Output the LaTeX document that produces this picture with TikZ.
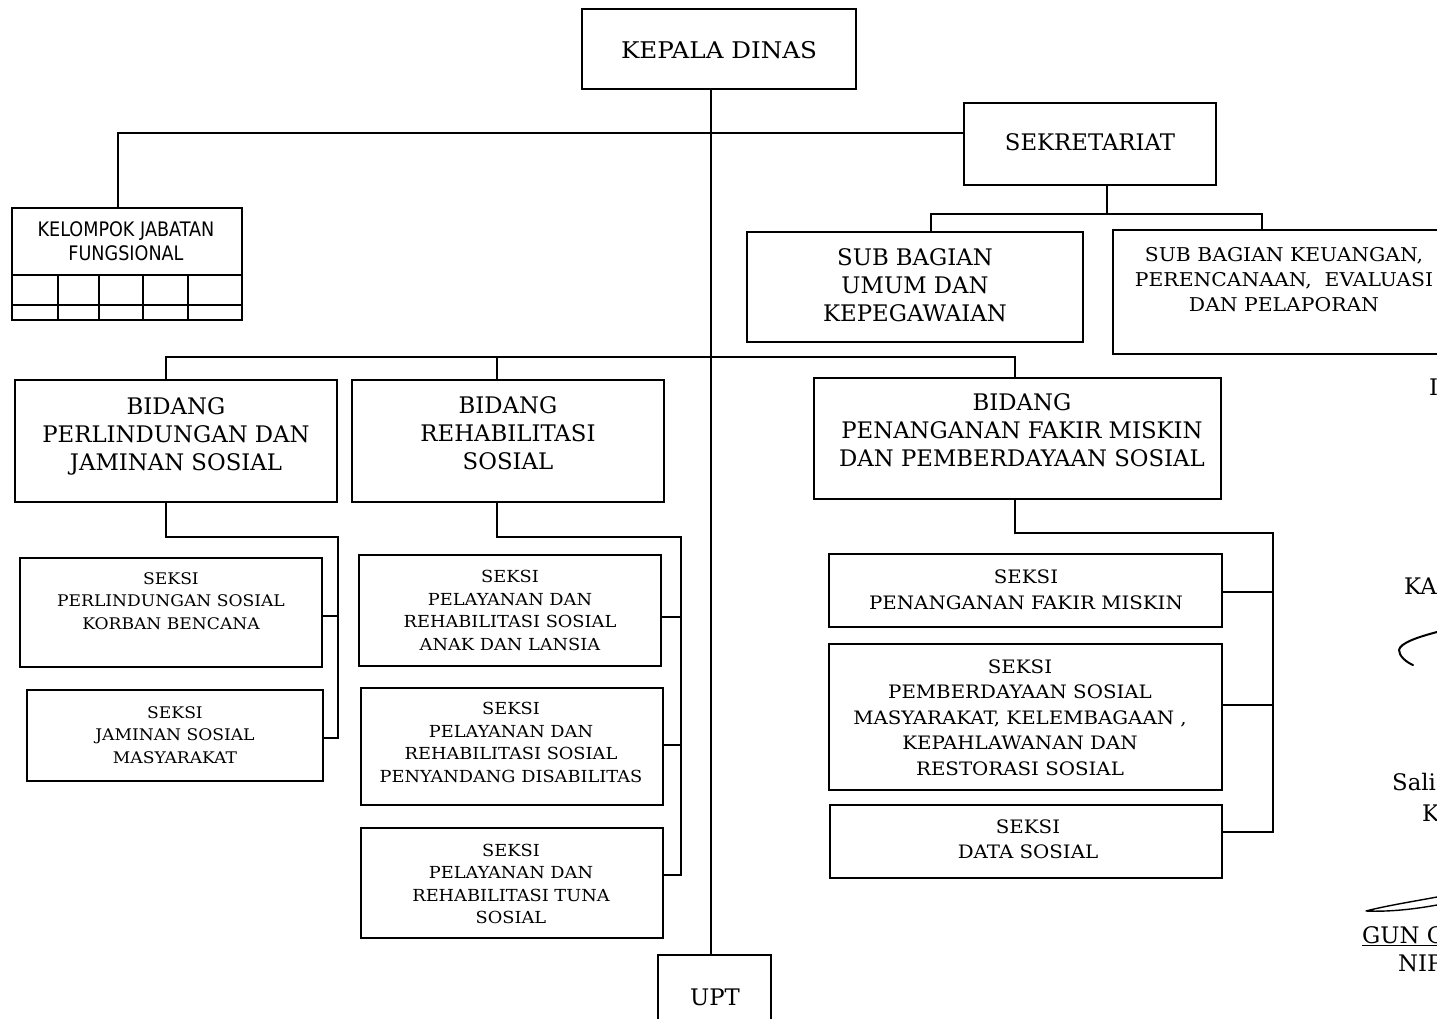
\documentclass[tikz,border=0pt]{standalone}
\usepackage{fontspec}
\setmainfont{DejaVu Serif}
\newfontfamily\wideserif[FakeStretch=1.07]{DejaVu Serif}
\newfontfamily\kjffont[FakeStretch=0.88]{DejaVu Sans}
\begin{document}
\begin{tikzpicture}[x=1pt,y=-1pt,
  box/.style={draw, line width=1.9pt, inner sep=0pt},
  conn/.style={line width=1.9pt},
  thead/.style={align=center, inner sep=0pt, font=\wideserif\fontsize{23}{28}\selectfont},
  tbig/.style={align=center, inner sep=0pt, font=\fontsize{22.8}{28}\selectfont},
  tsub/.style={align=center, inner sep=0pt, font=\wideserif\fontsize{19}{25}\selectfont},
  tsek/.style={align=center, inner sep=0pt, font=\wideserif\fontsize{16}{22.5}\selectfont},
  tsekm/.style={align=center, inner sep=0pt, font=\wideserif\fontsize{16.6}{22.5}\selectfont},
  tsekr/.style={align=center, inner sep=0pt, font=\wideserif\fontsize{18.5}{25.5}\selectfont},
  tkjf/.style={align=center, inner sep=0pt, font=\kjffont\fontsize{20}{24}\selectfont},
  tsign/.style={inner sep=0pt, anchor=west, font=\fontsize{22.8}{28}\selectfont},
  sig/.style={line width=2pt, line cap=round, line join=round}
]
\useasboundingbox (0,0) rectangle (1437,1018);
\clip (0,0) rectangle (1437,1018);

% ---- top level
\node[box, minimum width=274pt, minimum height=80pt] (kd) at (719,49) {};
\node[thead] at (719,50) {KEPALA DINAS};

\node[box, minimum width=252pt, minimum height=82pt] (sek) at (1090,144) {};
\node[tbig] at (1090,142) {SEKRETARIAT};

% ---- secretariat sub-sections
\node[box, minimum width=336pt, minimum height=110pt] (sbu) at (915,287) {};
\node[tbig] at (915,285) {SUB BAGIAN\\UMUM DAN\\KEPEGAWAIAN};

\node[box, minimum width=347pt, minimum height=124pt] (sbk) at (1286.5,292) {};
\node[tsub] at (1284,280) {SUB BAGIAN KEUANGAN,\\PERENCANAAN,\ \ EVALUASI\\DAN PELAPORAN};

% ---- functional group with its table
\node[box, minimum width=230pt, minimum height=112pt] (kjf) at (127,264) {};
\node[tkjf] at (126,241) {KELOMPOK JABATAN\\FUNGSIONAL};
\draw[conn] (kjf.west |- 0,275) -- (243,275);
\draw[conn] (kjf.west |- 0,305) -- (243,305);
\foreach \cx in {58,99,143,188} \draw[conn] (\cx,275) -- (\cx,319);

% ---- bidang
\node[box, minimum width=322pt, minimum height=122pt] (bpjs) at (176,441) {};
\node[tbig] at (176,436) {BIDANG\\PERLINDUNGAN DAN\\JAMINAN SOSIAL};

\node[box, minimum width=312pt, minimum height=122pt] (brs) at (508,441) {};
\node[tbig] at (508,433) {BIDANG\\REHABILITASI\\SOSIAL};

\node[box, minimum width=407pt, minimum height=121pt] (bpfm) at (1017.5,438.5) {};
\node[tbig] at (1022,430) {BIDANG\\PENANGANAN FAKIR MISKIN\\DAN PEMBERDAYAAN SOSIAL};

% ---- seksi under perlindungan dan jaminan sosial
\node[box, minimum width=302pt, minimum height=109pt] (s1) at (171,612.5) {};
\node[tsek] at (171,601) {SEKSI\\PERLINDUNGAN SOSIAL\\KORBAN BENCANA};
\node[box, minimum width=296pt, minimum height=91pt] (s2) at (175,735.5) {};
\node[tsek] at (175,735) {SEKSI\\JAMINAN SOSIAL\\MASYARAKAT};

% ---- seksi under rehabilitasi sosial
\node[box, minimum width=302pt, minimum height=111pt] (s3) at (510,610.5) {};
\node[tsekm] at (510,610.5) {SEKSI\\PELAYANAN DAN\\REHABILITASI SOSIAL\\ANAK DAN LANSIA};
\node[box, minimum width=302pt, minimum height=117pt] (s4) at (512,746.5) {};
\node[tsekm] at (511,742.5) {SEKSI\\PELAYANAN DAN\\REHABILITASI SOSIAL\\PENYANDANG DISABILITAS};
\node[box, minimum width=302pt, minimum height=110pt] (s5) at (512,883) {};
\node[tsekm] at (511,884) {SEKSI\\PELAYANAN DAN\\REHABILITASI TUNA\\SOSIAL};

% ---- seksi under penanganan fakir miskin
\node[box, minimum width=393pt, minimum height=73pt] (s6) at (1025.5,590.5) {};
\node[tsekr] at (1026,590) {SEKSI\\PENANGANAN FAKIR MISKIN};
\node[box, minimum width=393pt, minimum height=146pt] (s7) at (1025.5,717) {};
\node[tsekr] at (1020,717.5) {SEKSI\\PEMBERDAYAAN SOSIAL\\MASYARAKAT, KELEMBAGAAN ,\\KEPAHLAWANAN DAN\\RESTORASI SOSIAL};
\node[box, minimum width=392pt, minimum height=73pt] (s8) at (1026,841.5) {};
\node[tsekr] at (1028,839.5) {SEKSI\\DATA SOSIAL};

% ---- UPT
\node[box, minimum width=113pt, minimum height=90pt] (upt) at (714.5,1000) {};
\node[tbig] at (715,997) {UPT};

% ---- junction points
\coordinate (trunk) at (711,0);
\coordinate (jk) at (118,133);
\coordinate (js) at (1107,214);
\coordinate (jsl) at (931,214);
\coordinate (jsr) at (1262,214);
\coordinate (jbl) at (166,357);
\coordinate (jbm) at (497,357);
\coordinate (jbr) at (1015,357);
\coordinate (p1) at (166,537);
\coordinate (p2) at (338,537);
\coordinate (p3) at (338,738);
\coordinate (p4) at (338,616);
\coordinate (r1) at (497,537);
\coordinate (r2) at (681,537);
\coordinate (r3) at (681,617);
\coordinate (r4) at (681,745);
\coordinate (r5) at (681,875);
\coordinate (f1) at (1015,533);
\coordinate (f2) at (1273,533);
\coordinate (f3) at (1273,592);
\coordinate (f4) at (1273,705);
\coordinate (f5) at (1273,832);

% ---- connectors
\draw[conn] (kd.south -| trunk) -- (upt.north -| trunk);
\draw[conn] (sek.west |- jk) -- (jk) -- (kjf.north -| jk);
\draw[conn] (sek.south -| js) -- (js);
\draw[conn] (sbu.north -| jsl) -- (jsl) -- (jsr) -- (sbk.north -| jsr);
\draw[conn] (bpjs.north -| jbl) -- (jbl) -- (jbr) -- (bpfm.north -| jbr);
\draw[conn] (jbm) -- (brs.north -| jbm);

\draw[conn] (bpjs.south -| p1) -- (p1) -- (p2) -- (p3) -- (s2.east |- p3);
\draw[conn] (s1.east |- p4) -- (p4);

\draw[conn] (brs.south -| r1) -- (r1) -- (r2) -- (r5) -- (s5.east |- r5);
\draw[conn] (s3.east |- r3) -- (r3);
\draw[conn] (s4.east |- r4) -- (r4);

\draw[conn] (bpfm.south -| f1) -- (f1) -- (f2) -- (f5) -- (s8.east |- f5);
\draw[conn] (s6.east |- f3) -- (f3);
\draw[conn] (s7.east |- f4) -- (f4);

% ---- signature block at the page edge
\node[tsign] at (1429,387) {I};
\node[tsign] at (1404,586) {KA};
\draw[sig] (1437,632) .. controls (1418,637) and (1400,643) .. (1399,650) .. controls (1399,656) and (1406,662) .. (1413,665);
\node[tsign] at (1392,782) {Sali};
\node[tsign] at (1422,813) {K};
\draw[sig, line width=1.4pt] (1437,897) .. controls (1410,902) and (1385,906) .. (1366,911) .. controls (1390,912) and (1415,909) .. (1437,905);
\node[tsign] at (1362,936) {\underline{GUN G}};
\node[tsign] at (1398,963) {NIP};
\end{tikzpicture}
\end{document}
